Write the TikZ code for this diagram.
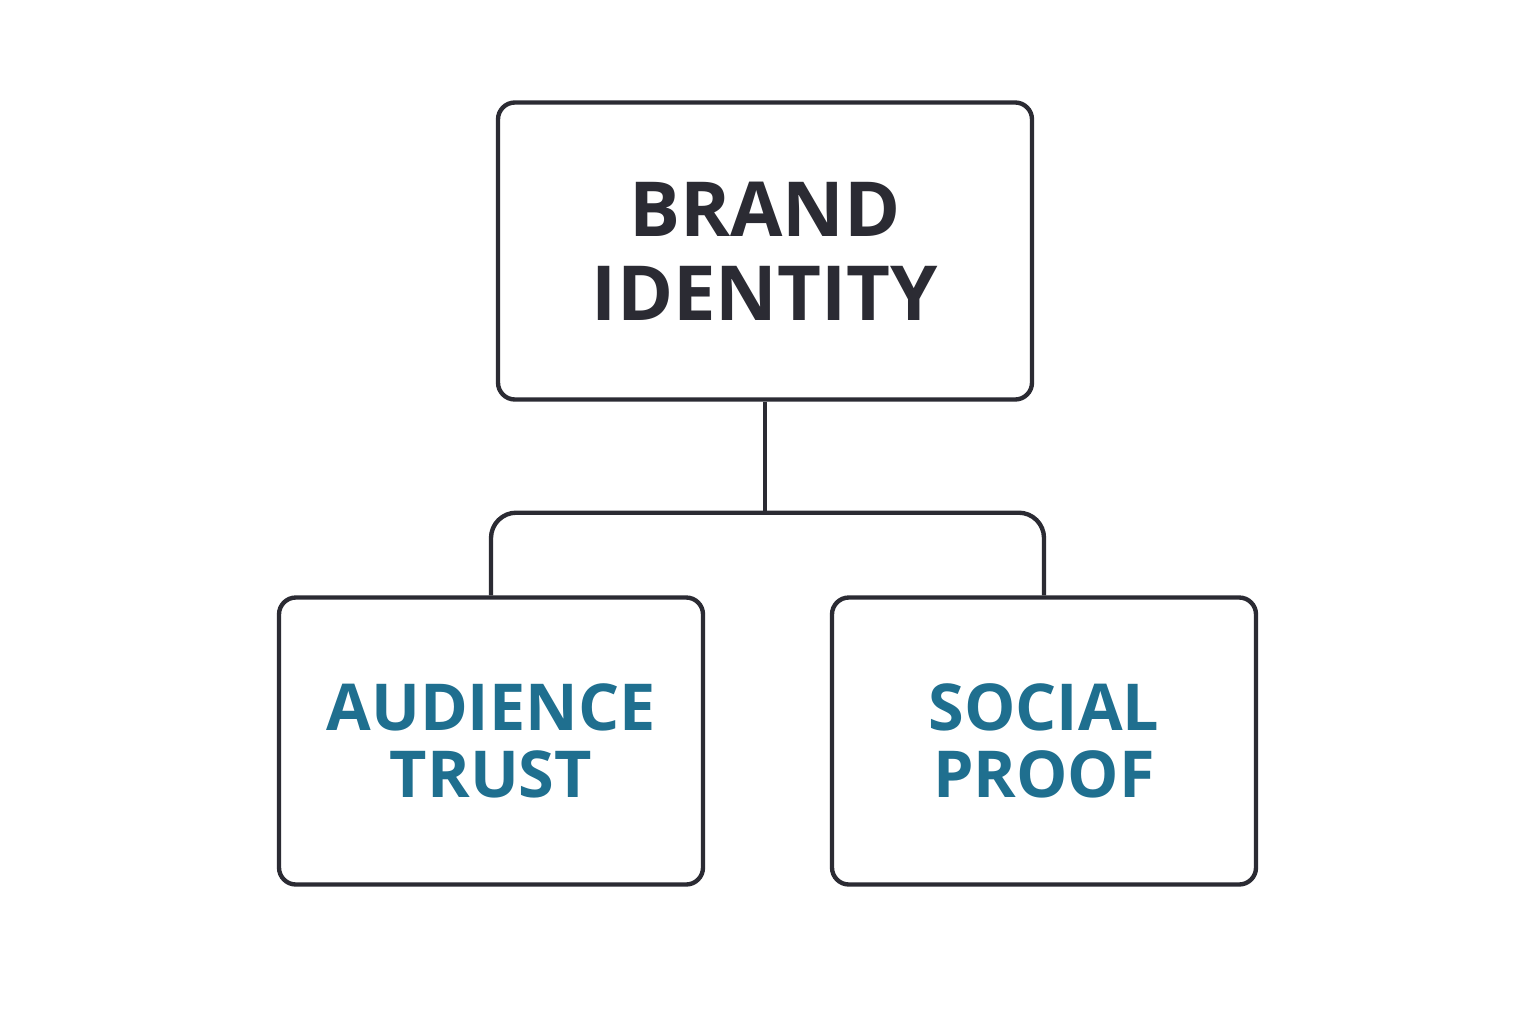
\documentclass[tikz,border=0pt]{standalone}
\usepackage{fontspec}
\setmainfont{Open Sans}
\usetikzlibrary{positioning}
\definecolor{ink}{HTML}{2B2B33}
\definecolor{teal}{HTML}{1F6F8F}
\tikzset{
  box/.style={draw=ink, line width=3.1pt, rounded corners=12pt, fill=white},
  link/.style={draw=ink, line width=3.1pt},
  toptext/.style={text=ink, font=\fontsize{54}{60}\selectfont\bfseries, align=center},
  subtext/.style={text=teal, font=\fontsize{46}{48}\selectfont\bfseries, align=center}
}
\begin{document}
\begin{tikzpicture}[x=0.025cm, y=-0.025cm]
   \useasboundingbox (0,0) rectangle (1536,1024);
   \fill[white] (0,0) rectangle (1536,1024);
 %
   \node[box, minimum width=534*0.025cm, minimum height=297*0.025cm] (brand) at (765,251) {};
   \node[box, minimum width=424*0.025cm, minimum height=287*0.025cm] (aud)   at (491,741) {};
   \node[box, minimum width=424*0.025cm, minimum height=287*0.025cm] (soc)   at (1044,741) {};
   \node[toptext] at (brand) {BRAND\\IDENTITY};
   \node[subtext] at (aud)   {AUDIENCE\\TRUST};
   \node[subtext] at (soc)   {SOCIAL\\PROOF};
 %
   \draw[link] (brand.south) -- ++(0,111) coordinate (join);
   \draw[link, rounded corners=18pt] (aud.north) -- (aud.north |- join) -- (soc.north |- join) -- (soc.north);
\end{tikzpicture}
\end{document}
